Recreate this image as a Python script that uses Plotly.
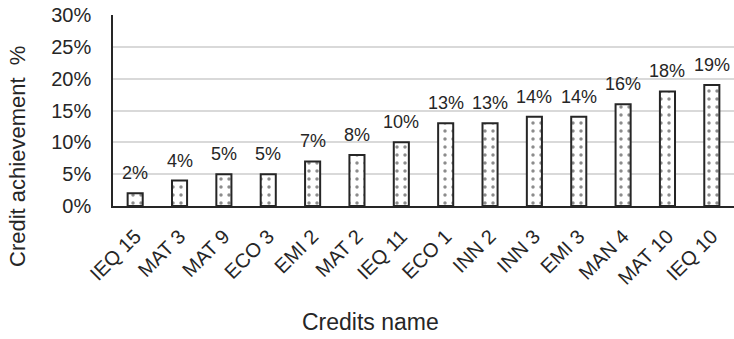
import plotly.graph_objects as go

categories = ["IEQ 15", "MAT 3", "MAT 9", "ECO 3", "EMI 2", "MAT 2", "IEQ 11",
              "ECO 1", "INN 2", "INN 3", "EMI 3", "MAN 4", "MAT 10", "IEQ 10"]
values = [2, 4, 5, 5, 7, 8, 10, 13, 13, 14, 14, 16, 18, 19]
y_ticks = [0, 5, 10, 15, 20, 25, 30]

dark = "#262626"
fig = go.Figure(go.Bar(
    x=categories, y=values,
    width=0.34,
    marker=dict(color="white",
                line=dict(color=dark, width=2),
                pattern=dict(shape=".", size=8, solidity=0.15,
                             fgcolor="#1a1a1a", bgcolor="white")),
))

for c, v in zip(categories, values):
    fig.add_annotation(x=c, y=v, text=f"{v}%", showarrow=False,
                       yanchor="bottom", yshift=8,
                       font=dict(size=18, color=dark, family="Liberation Sans"))

# axis titles
fig.add_annotation(xref="paper", yref="paper", x=(17 - 113) / 621, y=(206 - 157) / 191,
                   text="Credit achievement  %", textangle=-90, showarrow=False,
                   xanchor="center", yanchor="middle",
                   font=dict(size=22, color=dark, family="Liberation Sans"))
fig.add_annotation(xref="paper", yref="paper", x=(370 - 113) / 621, y=(206 - 322) / 191,
                   text="Credits name", showarrow=False,
                   xanchor="center", yanchor="middle",
                   font=dict(size=23, color=dark, family="Liberation Sans"))

fig.update_layout(
    width=734, height=339,
    margin=dict(l=113, r=0, t=15, b=133),
    plot_bgcolor="white", paper_bgcolor="white",
    font=dict(family="Liberation Sans", size=20, color=dark),
    showlegend=False,
)
fig.update_yaxes(
    range=[0, 30], tickvals=y_ticks, ticktext=[f"{t}%" for t in y_ticks],
    showgrid=True, gridcolor="#d9d9d9", gridwidth=1.5,
    showline=True, linecolor=dark, linewidth=1.5,
    ticks="", zeroline=False, ticklabelstandoff=16,
    tickfont=dict(size=20),
)
fig.update_xaxes(
    tickangle=-45, showline=True, linecolor=dark, linewidth=1.5,
    ticks="", showgrid=False, ticklabelstandoff=9,
    tickfont=dict(size=20),
)

fig.write_html("out.html")
